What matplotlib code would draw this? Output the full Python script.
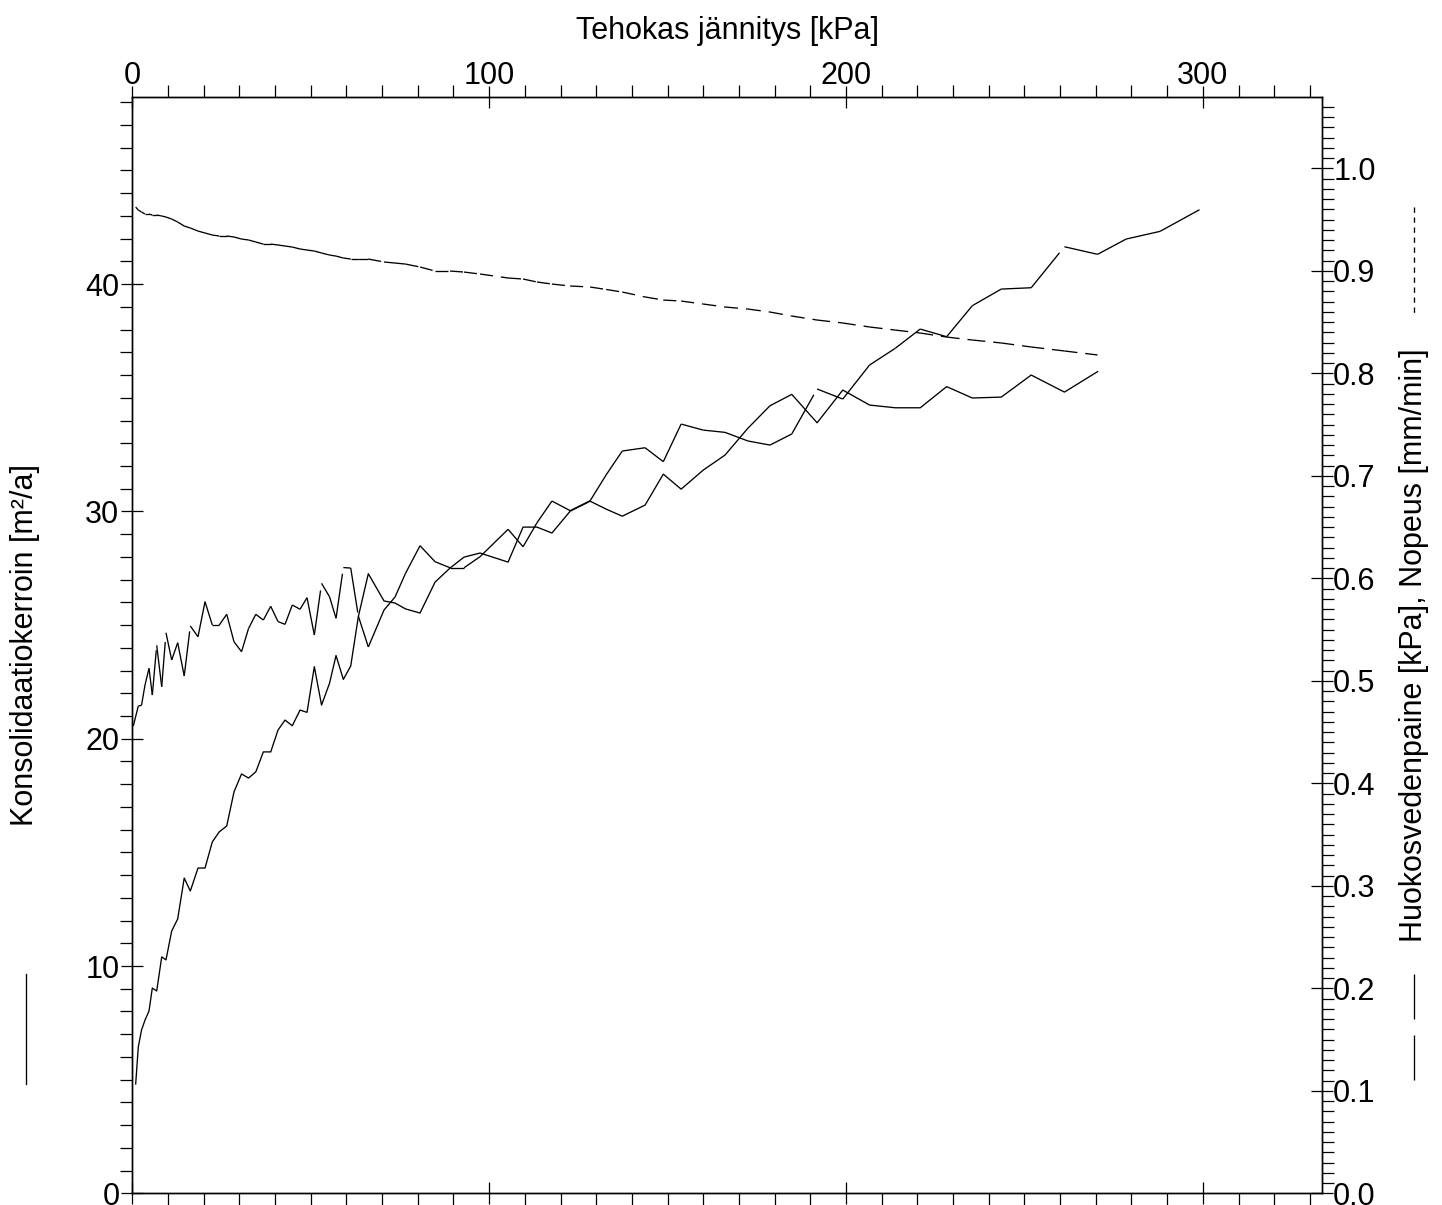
import matplotlib
matplotlib.use("Agg")
import matplotlib.pyplot as plt
from matplotlib.collections import LineCollection
from matplotlib.lines import Line2D
from matplotlib.ticker import MultipleLocator, FormatStrFormatter

plt.rcParams['font.family'] = ['Liberation Sans', 'DejaVu Sans']
plt.rcParams['lines.scale_dashes'] = False

# ---------------- data ----------------
stress_cv = [0.95, 1.68, 2.58, 3.56, 4.68, 5.61, 6.84, 8.24, 9.44, 11.04,
             12.72, 14.55, 16.26, 18.41, 20.38, 22.42, 24.36, 26.46, 28.50, 30.61,
             32.57, 34.61, 36.72, 38.79, 40.83, 42.80, 44.84, 47.00, 48.96, 51.01,
             53.03, 55.27, 57.09, 59.14, 61.21, 63.34, 66.14, 70.54, 73.63, 76.57,
             80.63, 84.84, 89.04, 92.96, 97.45, 105.3, 109.5, 113.4, 117.6, 122.7,
             128.3, 132.8, 137.3, 143.7, 148.8, 153.8, 160.0, 166.1, 172.5, 178.7,
             184.8, 191.9, 199.1, 206.6, 213.8, 220.8, 228.2, 235.4, 243.5, 251.9,
             261.2, 270.5]

cv = [4.81, 6.44, 7.18, 7.62, 8.02, 9.03, 8.90, 10.40, 10.27, 11.54,
      12.07, 13.87, 13.30, 14.31, 14.31, 15.46, 15.90, 16.16, 17.66, 18.45,
      18.27, 18.54, 19.42, 19.42, 20.38, 20.82, 20.57, 21.26, 21.16, 23.17,
      21.48, 22.44, 23.66, 22.61, 23.20, 25.37, 27.26, 26.06, 25.97, 25.71,
      25.53, 26.89, 27.51, 27.99, 28.17, 27.77, 29.31, 29.31, 29.05, 30.01,
      30.45, 30.10, 29.79, 30.28, 31.64, 30.98, 31.82, 32.48, 33.66, 34.65,
      35.15, 33.90, 35.34, 34.68, 34.56, 34.56, 35.49, 34.99, 35.03, 36.00,
      35.25, 36.15]

speed = [0.9622, 0.9593, 0.9574, 0.9554, 0.9554, 0.9544, 0.9544, 0.9535, 0.9525, 0.9505,
         0.9476, 0.9437, 0.9418, 0.9388, 0.9369, 0.9349, 0.9340, 0.9340, 0.9330, 0.9310,
         0.9301, 0.9281, 0.9261, 0.9261, 0.9252, 0.9242, 0.9232, 0.9213, 0.9203, 0.9193,
         0.9174, 0.9154, 0.9144, 0.9125, 0.9115, 0.9115, 0.9115, 0.9086, 0.9076, 0.9066,
         0.9037, 0.8998, 0.8998, 0.8988, 0.8969, 0.8930, 0.8920, 0.8891, 0.8871, 0.8852,
         0.8842, 0.8818, 0.8793, 0.8745, 0.8715, 0.8705, 0.8676, 0.8647, 0.8627, 0.8598,
         0.8559, 0.8520, 0.8491, 0.8452, 0.8422, 0.8393, 0.8354, 0.8325, 0.8296, 0.8257,
         0.8218, 0.8179]

stress_pore = [0.28, 1.68, 2.58, 3.56, 4.68, 5.61, 6.84, 8.24, 9.44, 11.04,
               12.72, 14.55, 16.26, 18.41, 20.38, 22.42, 24.36, 26.46, 28.50, 30.61,
               32.57, 34.61, 36.72, 38.79, 40.83, 42.80, 44.84, 47.00, 48.96, 51.01,
               53.03, 55.27, 57.09, 59.14, 61.21, 63.34, 66.14, 70.54, 73.63, 76.57,
               80.63, 84.84, 89.04, 92.96, 97.45, 105.3, 109.5, 113.4, 117.6, 122.7,
               128.3, 132.8, 137.3, 143.7, 148.8, 153.8, 160.0, 166.1, 172.5, 178.7,
               184.8, 191.9, 199.1, 206.6, 213.8, 220.8, 228.2, 235.4, 243.5, 251.9,
               261.2, 270.5, 278.5, 288.0, 299.4]

pore = [0.4559, 0.4754, 0.4761, 0.4959, 0.5122, 0.4861, 0.5346, 0.4942, 0.5469, 0.5203,
        0.5372, 0.5047, 0.5535, 0.5430, 0.5772, 0.5544, 0.5544, 0.5649, 0.5381, 0.5284,
        0.5510, 0.5649, 0.5593, 0.5727, 0.5578, 0.5551, 0.5740, 0.5698, 0.5811, 0.5447,
        0.5951, 0.5820, 0.5610, 0.6105, 0.6100, 0.5632, 0.5330, 0.5691, 0.5818, 0.6049,
        0.6318, 0.6162, 0.6103, 0.6103, 0.6211, 0.6478, 0.6308, 0.6542, 0.6754, 0.6660,
        0.6757, 0.7010, 0.7242, 0.7274, 0.7138, 0.7505, 0.7446, 0.7424, 0.7340, 0.7300,
        0.7408, 0.7847, 0.7749, 0.8081, 0.8244, 0.8432, 0.8357, 0.8660, 0.8822, 0.8835,
        0.9235, 0.9161, 0.9310, 0.9385, 0.9603]

x_ticks = [0, 100, 200, 300]
x_label = "Tehokas jännitys [kPa]"
left_label = "Konsolidaatiokerroin [m²/a]"
right_label = "Huokosvedenpaine [kPa], Nopeus [mm/min]"

# ---------------- figure ----------------
W, H = 1442, 1205
fig = plt.figure(figsize=(W / 100, H / 100), dpi=100)
L, R, T, B = 132.3, 1321.7, 97.3, 1193.3
ax = fig.add_axes([L / W, (H - B) / H, (R - L) / W, (B - T) / H])
ax2 = ax.twinx()

FS = 22
PX = 0.72  # points per pixel

ax.set_xlim(0, 333.3)
ax.set_ylim(0, 48.22)
ax2.set_ylim(0, 1.0693)

# coefficient of consolidation: solid
ax.plot(stress_cv, cv, color='black', lw=0.95)

# pore pressure: long dashes, pattern restarting on each segment
seg_p = [[(stress_pore[i], pore[i]), (stress_pore[i + 1], pore[i + 1])]
         for i in range(len(pore) - 1)]
lc_p = LineCollection(seg_p, colors='black', linewidths=0.95,
                      linestyles=[(0, (45 * PX, 16 * PX))])
ax2.add_collection(lc_p)

# speed: short dashes, pattern restarting on each segment
seg_s = [[(stress_cv[i], speed[i]), (stress_cv[i + 1], speed[i + 1])]
         for i in range(len(speed) - 1)]
lc_s = LineCollection(seg_s, colors='black', linewidths=0.95,
                      linestyles=[(0, (13 * PX, 8 * PX))])
ax2.add_collection(lc_s)

# ---------------- axes styling ----------------
for a in (ax, ax2):
    for sp in a.spines.values():
        sp.set_linewidth(1.0)

ax.xaxis.set_major_locator(MultipleLocator(100))
ax.xaxis.set_minor_locator(MultipleLocator(10))
ax.yaxis.set_major_locator(MultipleLocator(10))
ax.yaxis.set_minor_locator(MultipleLocator(1))
ax2.yaxis.set_major_locator(MultipleLocator(0.1))
ax2.yaxis.set_minor_locator(MultipleLocator(0.01))
ax2.yaxis.set_major_formatter(FormatStrFormatter('%.1f'))

MAJ = 23 * PX
MIN = 12 * PX
ax.tick_params(axis='both', which='major', direction='inout', length=MAJ,
               width=0.9, labelsize=FS)
ax.tick_params(axis='both', which='minor', direction='out', length=MIN, width=0.9)
ax.tick_params(axis='x', which='both', top=True, bottom=True,
               labeltop=True, labelbottom=False)
ax.tick_params(axis='x', which='major', pad=-4.0)
ax.tick_params(axis='y', which='both', left=True, right=False)
ax.tick_params(axis='y', which='major', pad=1.0)
ax2.tick_params(axis='y', which='major', direction='inout', length=MAJ,
                width=0.9, labelsize=FS, pad=0.0)
ax2.tick_params(axis='y', which='minor', direction='out', length=MIN, width=0.9)
ax.set_xticks(x_ticks)

# ---------------- titles ----------------
fig.text(727 / W, 1 - 39 / H, x_label, ha='center', va='baseline', fontsize=FS)
fig.text(25 / W, 1 - 645.3 / H, left_label, rotation=90, ha='center',
         va='center', fontsize=FS)
fig.text(1414 / W, 1 - 645.3 / H, right_label, rotation=90, ha='center',
         va='center', fontsize=FS)

# line samples next to the axis titles
fig.add_artist(Line2D([25.7 / W, 25.7 / W], [1 - 974 / H, 1 - 1084 / H],
                      transform=fig.transFigure, color='black', lw=0.95))
fig.add_artist(Line2D([1414.3 / W, 1414.3 / W], [1 - 974 / H, 1 - 1082 / H],
                      transform=fig.transFigure, color='black', lw=0.95,
                      dashes=(45 * PX, 16 * PX)))
fig.add_artist(Line2D([1414.3 / W, 1414.3 / W], [1 - 206.7 / H, 1 - 316 / H],
                      transform=fig.transFigure, color='black', lw=0.95,
                      dashes=(5.3 * PX, 4.7 * PX)))

fig.savefig("out.png", dpi=100)
